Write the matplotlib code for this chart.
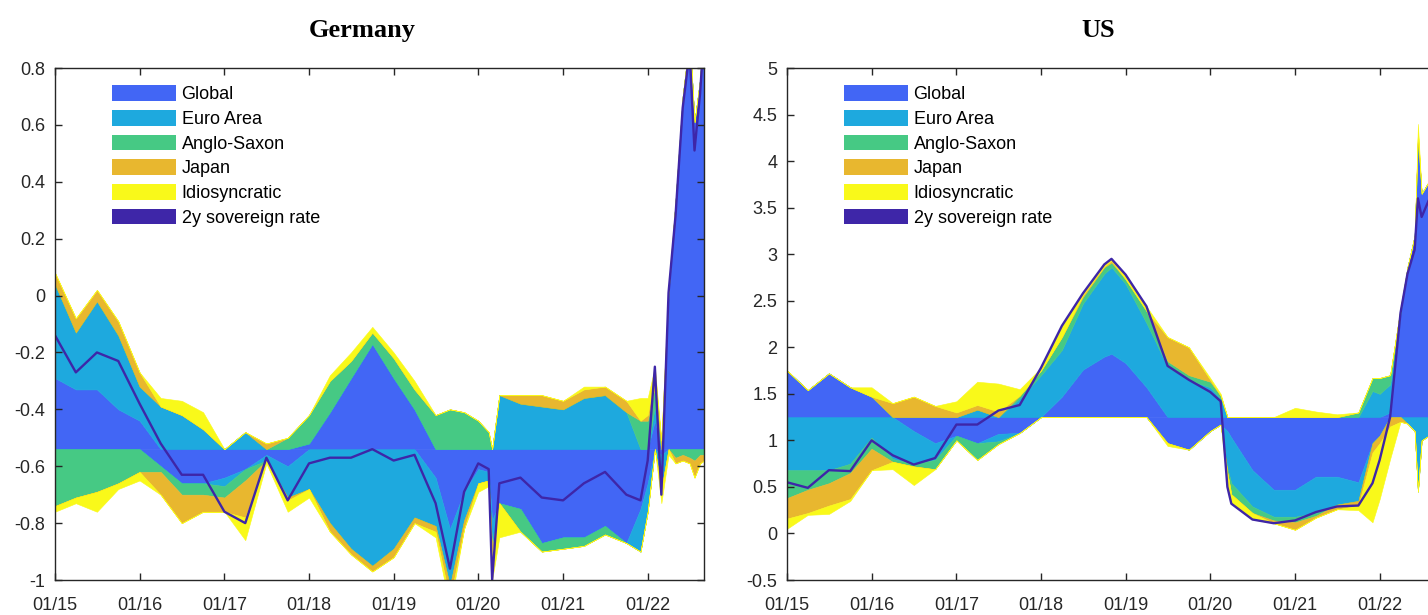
import numpy as np
import pandas as pd
import matplotlib
matplotlib.use("Agg")
import matplotlib.pyplot as plt
import matplotlib.dates as mdates
from matplotlib.patches import Patch
from matplotlib.ticker import FuncFormatter

plt.rcParams["font.family"] = ["Liberation Sans", "DejaVu Sans"]
plt.rcParams["axes.unicode_minus"] = False

labels = ["Global", "Euro Area", "Anglo-Saxon", "Japan", "Idiosyncratic", "2y sovereign rate"]
colors = ["#4266f5", "#1ea9de", "#46c984", "#e8b72f", "#f9f91a", "#3e26a8"]

# ---- Germany (mean level -0.54) ----
de_base = -0.54
de_dates = ["2015-01-01", "2015-04-01", "2015-07-01", "2015-10-01",
            "2016-01-01", "2016-04-01", "2016-07-01", "2016-10-01",
            "2017-01-01", "2017-04-01", "2017-07-01", "2017-10-01",
            "2018-01-01", "2018-04-01", "2018-07-01", "2018-10-01",
            "2019-01-01", "2019-04-01", "2019-07-01", "2019-09-01", "2019-11-01",
            "2020-01-01", "2020-02-15", "2020-03-01", "2020-04-01", "2020-07-01", "2020-10-01",
            "2021-01-01", "2021-04-01", "2021-07-01", "2021-10-01", "2021-12-01",
            "2022-01-01", "2022-02-01", "2022-03-01", "2022-04-01", "2022-05-01",
            "2022-06-01", "2022-07-01", "2022-07-22", "2022-08-15", "2022-09-01"]
de_global = [0.25, 0.21, 0.21, 0.14, 0.10, -0.06, -0.12, -0.12, -0.10, -0.07, -0.02, -0.06,
             0.02, 0.13, 0.25, 0.37, 0.25, 0.14, -0.10, -0.28, -0.15, -0.07, -0.08, -0.25,
             -0.19, -0.21, -0.33, -0.31, -0.31, -0.27, -0.33, -0.21, -0.12, 0.10, -0.02,
             0.55, 0.87, 1.22, 1.45, 1.15, 1.30, 1.50]
de_euro = [0.33, 0.20, 0.31, 0.26, 0.12, 0.15, 0.12, 0.07, -0.03, 0.06, -0.02, -0.11,
           -0.14, -0.26, -0.35, -0.41, -0.35, -0.24, -0.17, -0.20, -0.10, -0.05, -0.03, -0.10,
           0.19, 0.16, 0.15, 0.14, 0.18, 0.19, 0.13, -0.15, -0.10, 0.05, -0.12,
           0.00, 0.00, 0.02, 0.00, 0.00, 0.00, 0.00]
de_anglo = [-0.20, -0.17, -0.15, -0.12, -0.08, -0.02, -0.04, -0.04, -0.04, -0.04, 0.00, 0.04,
            0.10, 0.11, 0.06, 0.04, 0.07, 0.07, 0.12, 0.14, 0.13, 0.10, 0.06, 0.00,
            0.00, -0.08, -0.03, -0.04, -0.03, -0.03, 0.00, 0.10, 0.10, 0.07, 0.00,
            0.00, -0.03, -0.02, -0.03, -0.04, -0.02, -0.02]
de_japan = [0.04, 0.05, 0.04, 0.05, 0.05, -0.08, -0.10, -0.06, -0.05, -0.13, 0.02, -0.01,
            0.00, -0.03, -0.02, -0.02, -0.03, -0.02, -0.02, -0.05, -0.03, 0.00, 0.00, -0.03,
            0.00, 0.03, 0.04, 0.03, 0.03, 0.03, 0.04, 0.00, 0.02, 0.04, 0.03,
            0.02, -0.02, -0.02, -0.02, -0.06, -0.03, -0.02]
de_idio = [-0.02, -0.02, -0.07, -0.02, -0.03, 0.03, 0.05, 0.06, 0.00, -0.08, -0.01, -0.04,
           -0.03, 0.02, 0.03, 0.02, 0.02, 0.03, -0.02, -0.03, 0.00, -0.03, -0.02, -0.08,
           -0.12, 0.00, 0.00, 0.00, 0.01, 0.00, 0.00, 0.08, 0.06, 0.03, -0.05,
           -0.02, 0.00, 0.00, 0.00, 0.00, 0.00, 0.00]

# ---- US (mean level 1.25) ----
us_base = 1.25
us_dates = ["2015-01-01", "2015-04-01", "2015-07-01", "2015-10-01",
            "2016-01-01", "2016-04-01", "2016-07-01", "2016-10-01",
            "2017-01-01", "2017-04-01", "2017-07-01", "2017-10-01",
            "2018-01-01", "2018-04-01", "2018-07-01", "2018-10-01", "2018-11-01",
            "2019-01-01", "2019-04-01", "2019-07-01", "2019-10-01",
            "2020-01-01", "2020-02-15", "2020-03-15", "2020-04-01", "2020-07-01", "2020-10-01",
            "2021-01-01", "2021-04-01", "2021-07-01", "2021-10-01", "2021-12-01",
            "2022-01-01", "2022-02-15", "2022-04-01", "2022-05-01", "2022-06-01",
            "2022-06-15", "2022-07-01", "2022-08-01", "2022-09-01"]
us_global = [0.50, 0.29, 0.47, 0.32, 0.22, 0.00, -0.15, -0.28, -0.20, -0.28, -0.18, -0.17,
             0.00, 0.22, 0.51, 0.65, 0.68, 0.58, 0.32, -0.28, -0.35,
             -0.15, -0.08, -0.15, -0.22, -0.57, -0.78, -0.78, -0.64, -0.64, -0.70, -0.28,
             -0.20, 0.05, 1.12, 1.61, 1.95, 3.00, 2.40, 2.53, 2.60]
us_euro = [-0.57, -0.57, -0.57, -0.50, -0.22, -0.45, -0.35, -0.18, 0.00, 0.08, -0.08, 0.20,
           0.45, 0.50, 0.71, 0.89, 0.93, 0.85, 0.69, 0.54, 0.40,
           0.32, 0.20, -0.40, -0.49, -0.39, -0.29, -0.29, -0.39, -0.30, -0.20, 0.28,
           0.25, 0.30, 0.00, -0.07, -0.15, -0.80, -0.25, -0.20, -0.20]
us_anglo = [-0.30, -0.21, -0.14, -0.10, -0.12, -0.03, -0.03, -0.10, -0.05, -0.18, -0.03, 0.03,
            0.05, 0.14, 0.07, 0.07, 0.05, 0.05, 0.13, 0.06, 0.05,
            0.06, 0.03, -0.05, -0.12, -0.07, -0.04, -0.06, -0.03, 0.00, 0.05, 0.14,
            0.17, 0.10, 0.05, 0.00, 0.00, 0.00, 0.00, 0.00, 0.00]
us_japan = [-0.22, -0.25, -0.24, -0.28, -0.23, 0.15, 0.22, 0.12, 0.05, 0.05, 0.06, 0.00,
            0.00, 0.00, 0.02, 0.01, 0.02, 0.00, 0.00, 0.26, 0.30,
            0.02, 0.00, 0.00, 0.00, 0.00, -0.03, -0.08, -0.02, -0.05, -0.05, -0.10,
            -0.08, -0.10, -0.05, 0.00, 0.00, 0.06, 0.00, 0.00, 0.00]
us_idio = [-0.11, -0.02, -0.09, -0.02, 0.10, -0.08, -0.20, 0.00, 0.12, 0.25, 0.30, 0.07,
           0.03, 0.12, 0.02, 0.02, 0.02, 0.05, 0.05, -0.03, 0.00,
           0.02, 0.02, -0.15, -0.10, -0.07, 0.00, 0.10, 0.06, 0.03, -0.05, -0.75,
           -0.60, -0.35, 0.00, 0.00, 0.00, 0.09, 0.00, 0.00, 0.00]


def tick_fmt(v, pos):
    v = round(v, 2)
    if abs(v) < 1e-9:
        return "0"
    return "%g" % v


def draw_panel(ax, dates, comps, base):
    x = pd.to_datetime(dates)
    pos = np.zeros(len(x))
    neg = np.zeros(len(x))
    for vals, c in zip(comps, colors[:5]):
        v = np.asarray(vals, dtype=float)
        p = np.clip(v, 0, None)
        n = np.clip(v, None, 0)
        ax.fill_between(x, base + pos, base + pos + p, color=c, lw=0.4)
        ax.fill_between(x, base + neg, base + neg + n, color=c, lw=0.4)
        pos += p
        neg += n
    ax.plot(x, base + pos + neg, color=colors[5], lw=1.7)

    ax.set_xlim(pd.Timestamp("2015-01-01"), pd.Timestamp("2022-09-01"))
    ax.xaxis.set_major_locator(mdates.YearLocator())
    ax.xaxis.set_major_formatter(mdates.DateFormatter("%m/%y"))
    ax.yaxis.set_major_formatter(FuncFormatter(tick_fmt))
    ax.tick_params(direction="in", top=True, right=True, length=5, width=1,
                   colors="#262626", labelsize=13)
    ax.tick_params(axis="x", pad=12)
    ax.tick_params(axis="y", pad=7)
    for s in ax.spines.values():
        s.set_color("#262626")
        s.set_linewidth(1.0)

    handles = [Patch(facecolor=c, edgecolor="none") for c in colors]
    ax.legend(handles, labels, loc="upper left", bbox_to_anchor=(0.088, 0.966),
              frameon=False, fontsize=13, handlelength=3.55, handleheight=0.95,
              handletextpad=0.3, labelspacing=0.37, borderpad=0, borderaxespad=0)


fig = plt.figure(figsize=(14.28, 6.15), dpi=100)
ax1 = fig.add_axes([0.0385, 0.0569, 0.4545, 0.8325])
ax2 = fig.add_axes([0.5511, 0.0569, 0.4545, 0.8325])

draw_panel(ax1, de_dates, [de_global, de_euro, de_anglo, de_japan, de_idio], de_base)
ax1.set_ylim(-1, 0.8)
ax1.set_yticks(np.arange(-1, 0.81, 0.2))

draw_panel(ax2, us_dates, [us_global, us_euro, us_anglo, us_japan, us_idio], us_base)
ax2.set_ylim(-0.5, 5)
ax2.set_yticks(np.arange(-0.5, 5.01, 0.5))

fig.text(0.254, 0.951, "Germany", ha="center", va="center", fontsize=19,
         fontweight="bold", family="Liberation Serif")
fig.text(0.769, 0.951, "US", ha="center", va="center", fontsize=19,
         fontweight="bold", family="Liberation Serif")

fig.savefig("out.png", dpi=100)
